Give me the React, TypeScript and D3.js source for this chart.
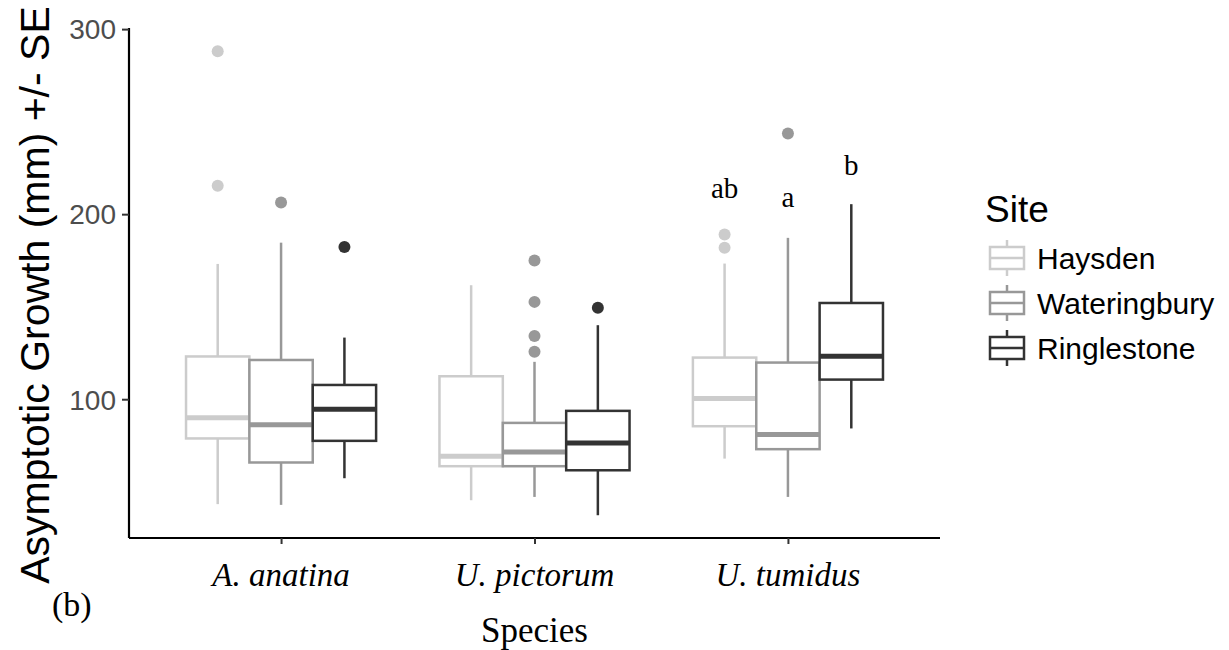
import React, { useEffect, useRef } from 'react';
import * as d3 from 'd3';

const species = ['A. anatina', 'U. pictorum', 'U. tumidus'];
const sites = ['Haysden', 'Wateringbury', 'Ringlestone'];
const siteColors = ['#cccccc', '#989898', '#333333'];

// rows = site, columns = species
const whiskerLow = [
  [43.3, 45.4, 67.9],
  [42.9, 47.2, 47.2],
  [57.3, 37.3, 84.2],
];
const q1 = [
  [78.8, 63.8, 85.4],
  [65.8, 63.8, 73.0],
  [77.5, 61.6, 110.6],
];
const median = [
  [90.0, 69.2, 100.4],
  [86.2, 71.5, 80.9],
  [94.6, 76.4, 123.2],
];
const q3 = [
  [123.1, 112.4, 122.5],
  [121.2, 87.2, 119.8],
  [107.7, 93.7, 152.0],
];
const whiskerHigh = [
  [173.1, 161.6, 173.3],
  [184.6, 120.2, 187.2],
  [133.3, 140.0, 205.4],
];
const outliers = [
  [[288.0, 215.4], [], [189.0, 181.8]],
  [[206.3], [175.0, 152.6, 134.2, 125.6], [243.6]],
  [[182.3], [149.4], []],
];

const yTicks = [100, 200, 300];
// significance letters over U. tumidus
const letterText = ['ab', 'a', 'b'];
const letterY = [209, 204, 221];

export default function App() {
  const ref = useRef<SVGSVGElement>(null);

  useEffect(() => {
    const totalWidth = 1229;
    const totalHeight = 650;
    const margin = { top: 28, right: 289, bottom: 112, left: 129 };
    const width = totalWidth - margin.left - margin.right;
    const height = totalHeight - margin.top - margin.bottom;

    const root = d3.select(ref.current);
    root.selectAll('*').remove();
    root.attr('width', totalWidth).attr('height', totalHeight);

    const svg = root.append('g').attr('transform', `translate(${margin.left},${margin.top})`);

    // ggplot style discrete expansion 0.6 each side
    const xScale = d3.scaleLinear().domain([0.4, 3.6]).range([0, width]);
    const xCenter = (i: number) => xScale(i + 1);
    const dodge = 0.75;
    const boxW = xScale(1 + dodge / 3) - xScale(1);
    const boxX = (s: number, i: number) => xCenter(i) - (xScale(1 + dodge / 2) - xScale(1)) + s * boxW;

    const yScale = d3.scaleLinear().domain([25, 300.6]).range([height, 0]);

    // boxes
    sites.forEach((site, s) => {
      const g = svg.append('g').attr('class', 'site');
      const col = siteColors[s];
      species.forEach((sp, i) => {
        const x0 = boxX(s, i);
        const cx = x0 + boxW / 2;
        g.append('line')
          .attr('x1', cx).attr('x2', cx)
          .attr('y1', yScale(q3[s][i])).attr('y2', yScale(whiskerHigh[s][i]))
          .attr('stroke', col).attr('stroke-width', 2.5);
        g.append('line')
          .attr('x1', cx).attr('x2', cx)
          .attr('y1', yScale(q1[s][i])).attr('y2', yScale(whiskerLow[s][i]))
          .attr('stroke', col).attr('stroke-width', 2.5);
        g.append('rect')
          .attr('x', x0).attr('y', yScale(q3[s][i]))
          .attr('width', boxW).attr('height', yScale(q1[s][i]) - yScale(q3[s][i]))
          .attr('fill', 'white').attr('stroke', col).attr('stroke-width', 2.5);
        g.append('line')
          .attr('x1', x0).attr('x2', x0 + boxW)
          .attr('y1', yScale(median[s][i])).attr('y2', yScale(median[s][i]))
          .attr('stroke', col).attr('stroke-width', 5);
        outliers[s][i].forEach(v => {
          g.append('circle').attr('cx', cx).attr('cy', yScale(v)).attr('r', 6).attr('fill', col);
        });
      });
    });

    // y axis
    const yAxis = svg.append('g')
      .call(d3.axisLeft(yScale).tickValues(yTicks).tickSize(7).tickPadding(6));
    yAxis.select('.domain').attr('stroke', 'black').attr('stroke-width', 2.2)
      .attr('d', `M0,${height}V0`);
    yAxis.selectAll('.tick line').attr('stroke', '#333').attr('stroke-width', 2);
    yAxis.selectAll('.tick text')
      .style('font-family', 'Liberation Sans, Arial, sans-serif')
      .style('font-size', '28px').attr('fill', '#4d4d4d').attr('dy', '0.35em');

    // x axis
    const xAxis = svg.append('g')
      .attr('transform', `translate(0,${height})`)
      .call(d3.axisBottom(xScale).tickValues([1, 2, 3]).tickSize(6).tickFormat(() => ''));
    xAxis.select('.domain').attr('stroke', 'black').attr('stroke-width', 2.2)
      .attr('d', `M0,0H${width}`);
    xAxis.selectAll('.tick line').attr('stroke', '#333').attr('stroke-width', 2);

    species.forEach((sp, i) => {
      root.append('text')
        .attr('x', margin.left + xCenter(i)).attr('y', 586)
        .attr('text-anchor', 'middle')
        .style('font-family', 'Liberation Serif, Times New Roman, serif')
        .style('font-style', 'italic').style('font-size', '33px')
        .text(sp);
    });

    // significance letters
    letterText.forEach((t, s) => {
      svg.append('text')
        .attr('x', boxX(s, 2) + boxW / 2).attr('y', yScale(letterY[s]))
        .attr('text-anchor', 'middle')
        .style('font-family', 'Liberation Serif, Times New Roman, serif')
        .style('font-size', '29px')
        .text(t);
    });

    // axis titles
    root.append('text')
      .attr('transform', `translate(49,295) rotate(-90)`)
      .attr('text-anchor', 'middle')
      .style('font-family', 'Liberation Sans, Arial, sans-serif')
      .style('font-size', '41px')
      .text('Asymptotic Growth (mm) +/- SE');

    root.append('text')
      .attr('x', margin.left + width / 2).attr('y', 642)
      .attr('text-anchor', 'middle')
      .style('font-family', 'Liberation Serif, Times New Roman, serif')
      .style('font-size', '35px')
      .text('Species');

    root.append('text')
      .attr('x', 52).attr('y', 616)
      .style('font-family', 'Liberation Serif, Times New Roman, serif')
      .style('font-size', '34px')
      .text('(b)');

    // legend
    const legend = root.append('g').attr('transform', 'translate(985,0)');
    legend.append('text')
      .attr('x', 0).attr('y', 222)
      .style('font-family', 'Liberation Sans, Arial, sans-serif')
      .style('font-size', '37px')
      .text('Site');

    sites.forEach((site, s) => {
      const cy = 258 + s * 45;
      const col = siteColors[s];
      const k = legend.append('g');
      k.append('line').attr('x1', 22).attr('x2', 22).attr('y1', cy - 18).attr('y2', cy + 18)
        .attr('stroke', col).attr('stroke-width', 2.5);
      k.append('rect').attr('x', 5).attr('y', cy - 11).attr('width', 34).attr('height', 22)
        .attr('fill', 'white').attr('stroke', col).attr('stroke-width', 2.5);
      k.append('line').attr('x1', 5).attr('x2', 39).attr('y1', cy).attr('y2', cy)
        .attr('stroke', col).attr('stroke-width', 2.5);
      legend.append('text')
        .attr('x', 52).attr('y', cy).attr('dy', '0.35em')
        .style('font-family', 'Liberation Sans, Arial, sans-serif')
        .style('font-size', '30px')
        .text(site);
    });
  }, []);

  return (
    <svg ref={ref} style={{ position: 'absolute', left: 0, top: 0, background: 'white' }} />
  );
}
